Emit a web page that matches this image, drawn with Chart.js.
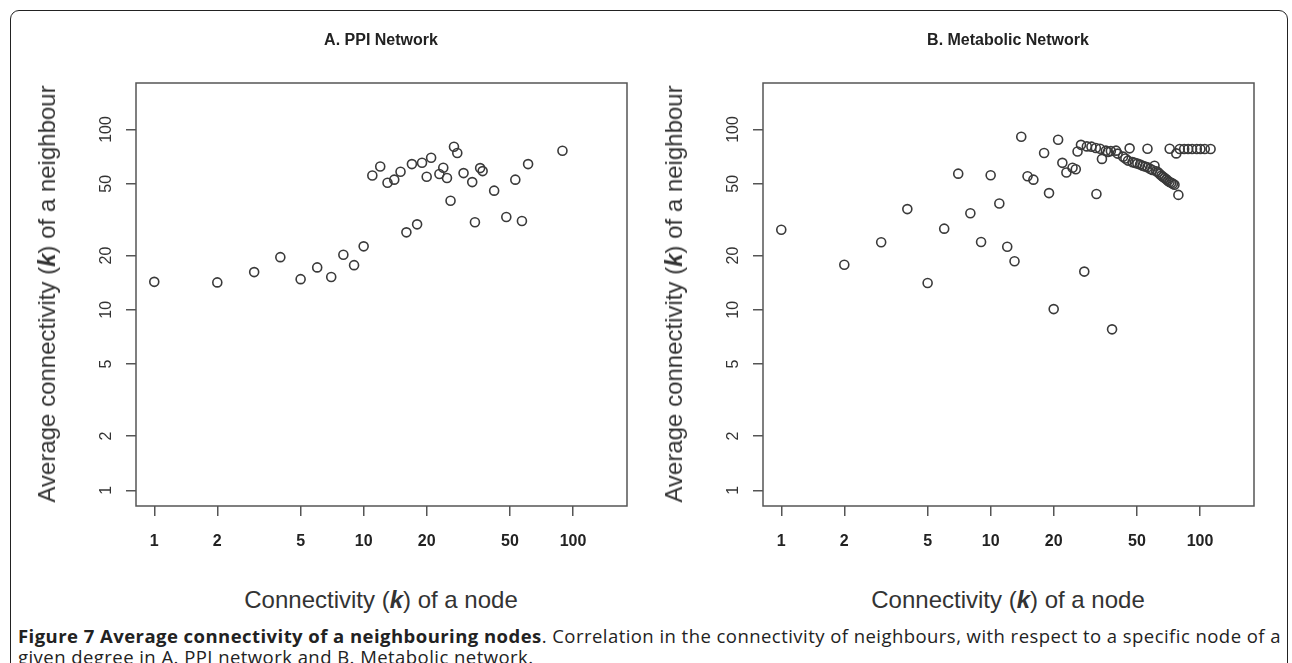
<!DOCTYPE html>
<html>
<head>
<meta charset="utf-8">
<script src="https://cdn.jsdelivr.net/npm/chart.js@4.4.0/dist/chart.umd.min.js"></script>
<style>
    body { margin: 0; width: 1292px; height: 663px; overflow: hidden; position: relative; background: #fff;
           font-family: "Liberation Sans", Arial, sans-serif; color: #222; }
    .frame { position: absolute; left: 10px; top: 10px; width: 1278px; height: 720px; box-sizing: border-box;
             border: 1.5px solid #222; border-radius: 9px; }
    canvas { position: absolute; top: 0; }
    #chartA { left: 0; }
    #chartB { left: 645px; }
    .ptitle { position: absolute; top: 31px; font-size: 16px; line-height: 18px; font-weight: bold;
              transform: translateX(-50%); white-space: nowrap; }
    .xtitle { position: absolute; top: 587px; font-size: 24px; line-height: 26px; color: #333;
              transform: translateX(-50%); white-space: nowrap; }
    .ytitle { position: absolute; top: 294px; font-size: 24px; line-height: 26px; color: #333;
              transform: translate(-50%, -50%) rotate(-90deg); white-space: nowrap; }
    .caption { position: absolute; left: 18px; font-family: "Open Sans", sans-serif; font-size: 18.5px;
               letter-spacing: 0.45px; line-height: 21px; white-space: nowrap; color: #222; }
</style>
</head>
<body>
<div class="frame"></div>
<canvas id="chartA" width="645" height="560"></canvas>
<canvas id="chartB" width="647" height="560"></canvas>

<div class="ptitle" style="left:381px">A. PPI Network</div>
<div class="ptitle" style="left:1008px">B. Metabolic Network</div>
<div class="ytitle" style="left:47px">Average connectivity (<b><i>k</i></b>) of a neighbour</div>
<div class="ytitle" style="left:674px">Average connectivity (<b><i>k</i></b>) of a neighbour</div>
<div class="xtitle" style="left:381px">Connectivity (<b><i>k</i></b>) of a node</div>
<div class="xtitle" style="left:1008px">Connectivity (<b><i>k</i></b>) of a node</div>
<div class="caption" style="top:625px"><b>Figure 7 Average connectivity of a neighbouring nodes</b>. Correlation in the connectivity of neighbours, with respect to a specific node of a</div>
<div class="caption" style="top:646px">given degree in A. PPI network and B. Metabolic network.</div>

<script>
// A. PPI network: node degree k vs average degree of its neighbours
const ppiK = [1, 2, 3, 4, 5, 6, 7, 8, 9, 10, 11, 12, 13, 14, 15, 16, 17, 18, 19, 20,
              21, 23, 24, 25, 26, 27, 28, 30, 33, 34, 36, 37, 42, 48, 53, 57, 61, 89];
const ppiNeighbour = [14.3, 14.2, 16.2, 19.6, 14.8, 17.2, 15.2, 20.2, 17.7, 22.5, 55.6, 62.4, 50.7, 52.7, 58.3, 26.9, 64.3, 29.8, 65.4, 54.7,
                      69.7, 56.6, 61.3, 53.8, 40.3, 80.2, 74, 57.3, 51.1, 30.6, 61.1, 58.8, 45.8, 32.7, 52.7, 31.1, 64.3, 76.2];

// B. Metabolic network
const metK = [1, 2, 3, 4, 5, 6, 7, 8, 9, 10, 11, 12, 13, 14, 15, 16, 18, 19, 20, 21,
              22, 23, 24.6, 25.5, 26, 27, 28, 28.8, 30.3, 31.8, 32, 33.3, 34, 35.5, 36.3, 37.5, 38, 39.7, 40.4, 42.9,
              44, 45.3, 46.1, 47.6, 48.8, 50.2, 51.7, 53.2, 54.6, 56.1, 56.1, 57.7, 59.2, 60.6, 61.8, 63, 64.2, 65.4, 66.5, 67.7,
              69, 70.2, 71.5, 71.6, 72.9, 74.2, 75.5, 77, 78.8, 80, 84, 87.7, 91.6, 96.5, 100.4, 105.3, 112.3];
const metNeighbour = [27.8, 17.8, 23.7, 36.2, 14.1, 28.2, 56.9, 34.3, 23.8, 55.8, 38.9, 22.4, 18.6, 91.2, 55.1, 52.7, 74.1, 44.4, 10.1, 87.8,
                      65.3, 57.8, 61.3, 60.2, 75.5, 82.2, 16.3, 80.6, 80.3, 79.0, 43.9, 78.2, 68.7, 76.3, 75.0, 75.9, 7.8, 76.3, 73.5, 70.7,
                      69.0, 67.2, 78.6, 65.9, 65.3, 64.7, 64.0, 63.0, 62.4, 61.7, 78.2, 60.6, 59.6, 63.0, 58.7, 57.9, 56.7, 55.5, 54.7, 53.9,
                      52.9, 51.9, 51.2, 78.2, 50.6, 50.0, 49.4, 73.7, 43.4, 78, 78, 78, 78, 78, 78, 78, 78];

const tickValues = [1, 2, 5, 10, 20, 50, 100];
const axisMin = 0.818;
const axisMax = 181;

// box around the plot + rotated y labels (R style)
const boxPlugin = {
    id: "boxAndYLabels",
    afterDraw(chart) {
        const ctx = chart.ctx;
        const a = chart.chartArea;
        const y = chart.scales.y;
        ctx.save();
        ctx.strokeStyle = "#555";
        ctx.lineWidth = 1.5;
        ctx.strokeRect(a.left, a.top, a.right - a.left, a.bottom - a.top);

        ctx.font = '16px "Liberation Sans", Arial, sans-serif';
        ctx.fillStyle = "#333";
        ctx.textAlign = "center";
        ctx.textBaseline = "middle";
        tickValues.forEach(v => {
            ctx.save();
            ctx.translate(a.left - 29, y.getPixelForValue(v));
            ctx.rotate(-Math.PI / 2);
            ctx.fillText(String(v), 0, 0);
            ctx.restore();
        });
        ctx.restore();
    }
};

function makeChart(id, xs, ys, yWidth, rightPad) {
    const points = xs.map((x, i) => ({ x: x, y: ys[i] }));
    const ctx = document.getElementById(id).getContext("2d");

    return new Chart(ctx, {
        type: "scatter",
        data: {
            datasets: [{
                data: points,
                pointRadius: 4.5,
                pointBorderWidth: 1.6,
                pointBorderColor: "#3a3a3a",
                pointBackgroundColor: "rgba(0,0,0,0)"
            }]
        },
        options: {
            responsive: false,
            animation: false,
            layout: { padding: { left: 0, right: rightPad, top: 83, bottom: 0 } },
            plugins: { legend: { display: false }, tooltip: { enabled: false } },
            scales: {
                x: {
                    type: "logarithmic",
                    min: axisMin,
                    max: axisMax,
                    afterBuildTicks: s => { s.ticks = tickValues.map(v => ({ value: v })); },
                    afterFit: s => { s.height = 54; },
                    border: { display: false },
                    grid: { drawOnChartArea: false, drawTicks: true, tickLength: 10, color: "#555", lineWidth: 1.5 },
                    ticks: {
                        padding: 16,
                        maxRotation: 0,
                        autoSkip: false,
                        color: "#222",
                        font: { family: '"Liberation Sans", Arial, sans-serif', size: 16, weight: "bold" },
                        callback: v => String(v)
                    }
                },
                y: {
                    type: "logarithmic",
                    min: axisMin,
                    max: axisMax,
                    afterBuildTicks: s => { s.ticks = tickValues.map(v => ({ value: v })); },
                    afterFit: s => { s.width = yWidth; },
                    border: { display: false },
                    grid: { drawOnChartArea: false, drawTicks: true, tickLength: 10, color: "#555", lineWidth: 1.5 },
                    ticks: { display: false }
                }
            }
        },
        plugins: [boxPlugin]
    });
}

makeChart("chartA", ppiK, ppiNeighbour, 136, 18);
makeChart("chartB", metK, metNeighbour, 118, 38);
</script>
</body>
</html>
